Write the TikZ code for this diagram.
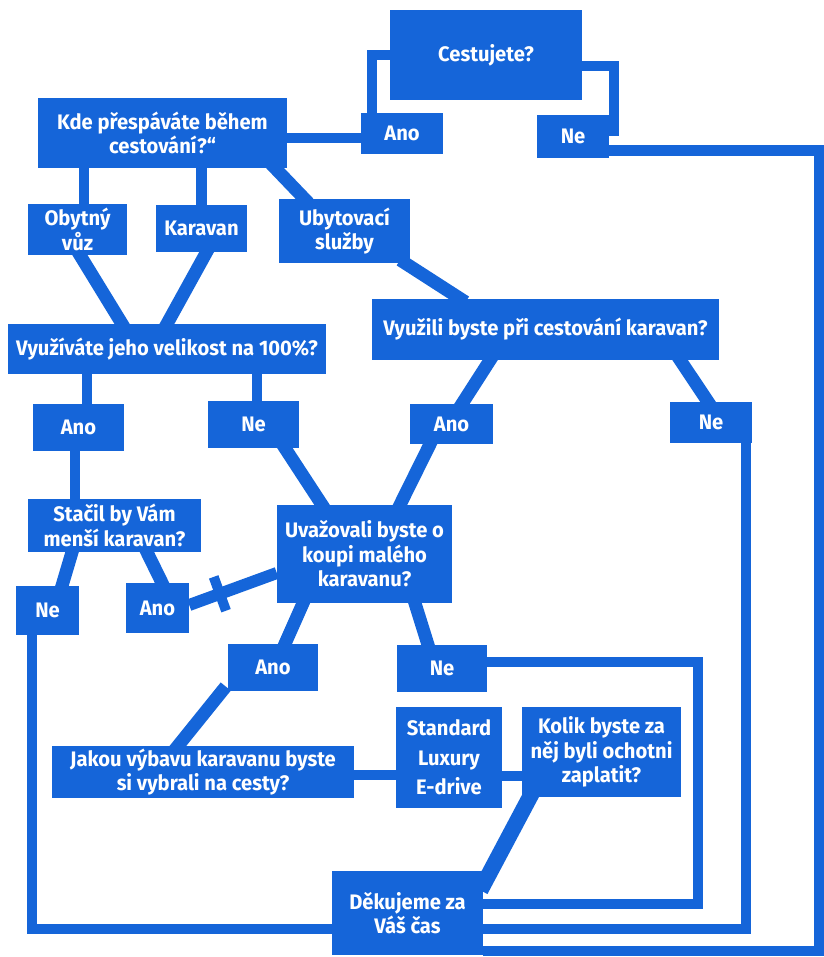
\documentclass[tikz,border=0pt]{standalone}
\usepackage{fontspec}
\setmainfont{Fira Sans}[FakeStretch=0.96]
\usetikzlibrary{calc,backgrounds}
\definecolor{flowblue}{RGB}{21,101,217}

\begin{document}
\begin{tikzpicture}[x=1pt,y=-1pt,
    box/.style={fill=flowblue, text=white, inner sep=0pt, align=center,
      font=\bfseries\fontsize{21}{24.5}\selectfont},
    link/.style={draw=flowblue, line width=10.5pt, shorten <=-5pt, shorten >=-5pt},
    slant/.style={draw=flowblue, line width=13pt, shorten <=-6pt, shorten >=-6pt},
    rim/.style={draw=flowblue, line width=10.5pt}]
  \useasboundingbox (0,0) rectangle (823,957);

  % top part
  \node[box, minimum width=192pt, minimum height=90pt] (cest) at (486,55) {Cestujete?};
  \node[box, minimum width=82pt, minimum height=41pt] (anoA) at (402,133.5) {Ano};
  \node[box, minimum width=72pt, minimum height=43pt] (neA) at (573,136.5) {Ne};
  \node[box, minimum width=249pt, minimum height=70pt] (kde) at (162.5,133) {Kde přespáváte během\\cestování?“};
  \node[box, minimum width=99pt, minimum height=51pt] (obyt) at (77.5,229.5) {Obytný\\vůz};
  \node[box, minimum width=91pt, minimum height=47pt] (karav) at (201.5,228.5) {Karavan};
  \node[box, minimum width=131pt, minimum height=64pt] (ubyt) at (344.5,231) {Ubytovací\\služby};

  % middle part
  \node[box, minimum width=318pt, minimum height=50pt] (vyuz) at (167,349) {Využíváte jeho velikost na 100\%?};
  \node[box, minimum width=347pt, minimum height=61pt] (vyuzili) at (545.5,329.5) {Využili byste při cestování karavan?};
  \node[box, minimum width=91pt, minimum height=47pt] (anoB) at (78.5,427.5) {Ano};
  \node[box, minimum width=91pt, minimum height=47pt] (neB) at (253.5,424.5) {Ne};
  \node[box, minimum width=83pt, minimum height=40pt] (anoC) at (451.5,424) {Ano};
  \node[box, minimum width=82pt, minimum height=41pt] (neC) at (711,422.5) {Ne};
  \node[box, minimum width=173pt, minimum height=53pt] (stacil) at (114.5,525.5) {Stačil by Vám\\menší karavan?};
  \node[box, minimum width=175pt, minimum height=98pt] (uvaz) at (364.5,554) {Uvažovali byste o\\koupi malého\\karavanu?};
  \node[box, minimum width=63pt, minimum height=49pt] (neD) at (47.5,610.5) {Ne};
  \node[box, minimum width=63pt, minimum height=50pt] (anoD) at (157.5,608) {Ano};

  % bottom part
  \node[box, minimum width=90pt, minimum height=47pt] (anoE) at (273,667.5) {Ano};
  \node[box, minimum width=90pt, minimum height=47pt] (neE) at (442,668.5) {Ne};
  \node[box, minimum width=302pt, minimum height=52pt] (jakou) at (203,772) {Jakou výbavu karavanu byste\\si vybrali na cesty?};
  \node[box, minimum width=106pt, minimum height=101pt] (std) at (449,757.5) {Standard\\[5pt]Luxury\\[5pt]E-drive};
  \node[box, minimum width=159pt, minimum height=90pt] (kolik) at (601.5,752) {Kolik byste za\\něj byli ochotni\\zaplatit?};
  \node[box, minimum width=151pt, minimum height=84pt] (dek) at (407.5,913) {Děkujeme za\\Váš čas};

  \coordinate (corner) at (819,951);
  \coordinate (bend) at (698,904);
  \coordinate (ad) at ([yshift=3pt]anoD.east);
  \coordinate (ud) at ([yshift=-19pt]uvaz.west);
  \coordinate (tick) at ($(ad)!0.35!(ud)$);

  \begin{pgfonlayer}{background}
    \draw[rim] (cest.west) -| ([xshift=11pt]anoA.north west);
    \draw[rim] ([yshift=-11pt]cest.east) -| ([xshift=5pt]neA.east);
    \draw[rim] ([yshift=-14pt]neA.east) -| (corner) -- (corner -| dek.east);
    \draw[link] ([yshift=-5pt]kde.east) -- ([yshift=-5pt]kde.east -| anoA.west);
    \draw[link] ([xshift=6.5pt]obyt.north) -- ([xshift=6.5pt]obyt.north |- kde.south);
    \draw[link] (karav.north) -- (karav.north |- kde.south);
    \draw[slant] ([xshift=-12pt]kde.south east) -- ([xshift=-40pt]ubyt.north);
    \draw[slant] ([xshift=2.5pt]obyt.south) -- ([xshift=-45pt]vyuz.north);
    \draw[slant] ([xshift=5pt]karav.south) -- (vyuz.north);
    \draw[slant] ([xshift=-5pt]ubyt.south east) -- ([xshift=-85pt]vyuzili.north);

    \draw[link] ([xshift=8.5pt]anoB.north) -- ([xshift=8.5pt]anoB.north |- vyuz.south);
    \draw[link] ([xshift=3.5pt]neB.north) -- ([xshift=3.5pt]neB.north |- vyuz.south);
    \draw[link] ([xshift=-3.5pt]anoB.south) -- ([xshift=-3.5pt]anoB.south |- stacil.north);
    \draw[slant] ([xshift=31.5pt]neB.south) -- ([xshift=-42.5pt]uvaz.north);
    \draw[slant] ([xshift=-55.5pt]vyuzili.south) -- ([xshift=10.5pt]anoC.north);
    \draw[slant] ([xshift=-21.5pt]anoC.south) -- ([xshift=35.5pt]uvaz.north);
    \draw[slant] ([xshift=-39pt]vyuzili.south east) -- ([xshift=-3pt]neC.north);
    \draw[rim] ([xshift=-6pt]neC.south east) |- ([yshift=-16pt]dek.east);
    \draw[slant] ([xshift=-42.5pt]stacil.south) -- ([xshift=14.5pt]neD.north);
    \draw[rim] ([xshift=-15.5pt]neD.south) |- ([yshift=-16pt]dek.west);
    \draw[slant] ([xshift=32.5pt]stacil.south) -- ([xshift=4.5pt]anoD.north);
    \draw[rim, line width=12pt] (ad) -- (ud);
    \draw[rim, line width=10pt] ($(tick)!18pt!90:(ud)$) -- ($(tick)!18pt!-90:(ud)$);

    \draw[slant] ([xshift=-61.5pt]uvaz.south) -- ([xshift=12pt]anoE.north);
    \draw[slant] ([xshift=50.5pt]uvaz.south) -- ([xshift=-14pt]neE.north);
    \draw[rim] ([yshift=6.5pt]neE.east) -| (bend) -- (bend -| dek.east);
    \draw[slant] ([xshift=-51pt]anoE.south) -- ([xshift=-25pt]jakou.north);
    \draw[link] ([yshift=-3pt]jakou.east) -- ([yshift=-3pt]jakou.east -| std.west);
    \draw[link] ([yshift=-18.5pt]std.east) -- ([yshift=-18.5pt]std.east -| kolik.west);
    \draw[slant, line width=16pt] ([xshift=8pt]kolik.south west) -- ([yshift=28pt]dek.east);
  \end{pgfonlayer}
\end{tikzpicture}
\end{document}
